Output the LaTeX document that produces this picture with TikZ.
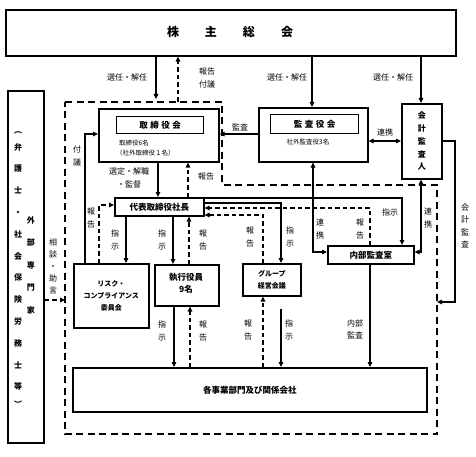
\documentclass[tikz,border=0pt]{standalone}
\usepackage{fontspec}
\setmainfont{Noto Sans CJK JP}
\usetikzlibrary{arrows.meta}
\tikzset{
  box/.style={draw, line width=1.6pt, inner sep=0pt, anchor=north west, fill=white},
  tbox/.style={draw, line width=1.4pt, inner sep=0pt, anchor=north west},
  arr/.style={line width=1.2pt, -{Triangle[length=5pt,width=4.5pt]}},
  darr/.style={arr, dash pattern=on 4.5pt off 3pt},
  dbl/.style={line width=1.2pt, {Triangle[length=5pt,width=4.5pt]}-{Triangle[length=5pt,width=4.5pt]}},
  bound/.style={line width=1.4pt, dash pattern=on 7pt off 4.5pt},
  lbl/.style={font=\fontsize{8}{9}\selectfont, inner sep=0pt, align=center},
  vlbl/.style={font=\fontsize{8}{12.5}\selectfont, inner sep=0pt, align=center},
  small/.style={font=\fontsize{6.5}{7}\selectfont, inner sep=0pt},
  ttl/.style={font=\bfseries\fontsize{8.5}{10}\selectfont, inner sep=0pt, align=center},
}
\begin{document}
\begin{tikzpicture}[x=1pt,y=-1pt]
\useasboundingbox (0,0) rectangle (476,457);
% boundary (dashed)
\draw[bound] (65,102) -- (222,102) -- (222,185) -- (437,185) -- (437,434) -- (65,434) -- cycle;
% boxes
\node[box, minimum width=450pt, minimum height=46pt] (gm) at (5,9) {};
\node[font=\bfseries\fontsize{12}{12}\selectfont, inner sep=0pt] (gmt) at (230,32) {株\hspace{26pt}主\hspace{26pt}総\hspace{26pt}会};
\node[box, minimum width=36pt, minimum height=352pt] (adv) at (7,90) {};
\node[box, minimum width=120pt, minimum height=53pt] (board) at (98,108) {};
\node[tbox, minimum width=87pt, minimum height=17pt] (boardt) at (116,116) {};
\node[ttl] (boardtt) at (boardt.center) {取\hspace{2.5pt}締\hspace{2.5pt}役\hspace{2.5pt}会};
\node[small, anchor=west] (bd1) at (119,143) {取締役6名};
\node[small, anchor=west] (bd2) at (116,153) {（社外取締役１名）};
\node[box, minimum width=109pt, minimum height=54pt] (kansa) at (258,107) {};
\node[tbox, minimum width=88pt, minimum height=19pt] (kansat) at (270,114) {};
\node[ttl] (kansatt) at (kansat.center) {監\hspace{2.5pt}査\hspace{2.5pt}役\hspace{2.5pt}会};
\node[small] (ks1) at (308,142) {社外監査役3名};
\node[box, minimum width=40pt, minimum height=75pt] (aud) at (401,103) {};
\node[font=\bfseries\fontsize{8}{12.8}\selectfont, inner sep=0pt, align=center] (audt) at (aud.center) {会\\計\\監\\査\\人};
\node[box, minimum width=89pt, minimum height=18pt] (pres) at (114,197) {};
\node[ttl] (prest) at (pres.center) {代表取締役社長};
\node[box, minimum width=75pt, minimum height=64pt] (risk) at (73,263) {};
\node[font=\bfseries\fontsize{7}{12}\selectfont, inner sep=0pt, align=center] (riskt) at (risk.center) {リスク・\\コンプライアンス\\委員会};
\node[box, minimum width=64pt, minimum height=41pt] (exec) at (154,264) {};
\node[font=\bfseries\fontsize{8.5}{12}\selectfont, inner sep=0pt, align=center] (exect) at (186,283) {執行役員\\9名};
\node[box, minimum width=58pt, minimum height=32pt] (grp) at (242,263) {};
\node[font=\bfseries\fontsize{7}{12}\selectfont, inner sep=0pt, align=center] (grpt) at (grp.center) {グループ\\経営会議};
\node[box, minimum width=86pt, minimum height=18pt] (ia) at (327,245) {};
\node[ttl] (iat) at (ia.center) {内部監査室};
\node[box, minimum width=354pt, minimum height=44pt] (biz) at (72,367) {};
\node[ttl] (bizt) at (biz.center) {各事業部門及び関係会社};
% left box text
\node[font=\bfseries\fontsize{8}{8}\selectfont, inner sep=0pt] (br1) at (18,133) {︵};
\node[font=\bfseries\fontsize{8}{21.8}\selectfont, inner sep=0pt, align=center] (advm) at (18,267) {弁\\護\\士\\・\\社\\会\\保\\険\\労\\務\\士\\等};
\node[font=\bfseries\fontsize{8}{8}\selectfont, inner sep=0pt] (br2) at (18,404) {︶};
\node[font=\bfseries\fontsize{8}{22.5}\selectfont, inner sep=0pt, align=center] (advs) at (31,265) {外\\部\\専\\門\\家};
% connectors from general meeting
\coordinate (bt) at (156,99);
\draw[arr] (156,0 |- gm.south) -- (bt);
\coordinate (rp) at (178,102);
\draw[darr] (rp) -- (178,0 |- gm.south);
\draw[arr] (312,0 |- gm.south) -- (312,0 |- kansa.north);
\draw[arr] (421,0 |- gm.south) -- (421,0 |- aud.north);
\node[lbl] (l1) at (127,77) {選任・解任};
\node[lbl] (l2) at (287,77) {選任・解任};
\node[lbl] (l3) at (393,77) {選任・解任};
\node[lbl, font=\fontsize{8}{13}\selectfont] (l4) at (207,78) {報告\\付議};
% audit
\draw[arr] (kansa.west |- 0,134) -- (board.east |- 0,134);
\node[lbl] (l5) at (240,127) {監査};
\draw[dbl] (kansa.east |- 0,141) -- (aud.west |- 0,141);
\node[lbl] (l6) at (385,132) {連携};
\coordinate (ae) at (437,302);
\draw[arr] (aud.east |- 0,141) -- (455,141) -- (455,302) -- (ae);
\node[vlbl] (l7) at (465,226) {会\\計\\監\\査};
% board <-> president
\draw[arr] (85,0 |- risk.north) -- (85,134) -- (board.west |- 0,134);
\node[vlbl] (l8) at (77,156) {付\\議};
\draw[arr] (158,0 |- board.south) -- (158,0 |- pres.north);
\node[lbl, font=\fontsize{8}{13}\selectfont] (l9) at (129,178) {選定・解職\\・監督};
\draw[darr] (188,0 |- pres.north) -- (188,0 |- board.south);
\node[lbl] (l10) at (206,176) {報告};
% president <-> risk/exec
\draw[darr] (99,0 |- risk.north) -- (99,205) -- (pres.west |- 0,205);
\node[vlbl] (l11) at (91,218) {報\\告};
\draw[arr] (126,0 |- pres.south) -- (126,0 |- risk.north);
\node[vlbl] (l12) at (115,240) {指\\示};
\draw[arr] (173,0 |- pres.south) -- (173,0 |- exec.north);
\node[vlbl] (l13) at (162,240) {指\\示};
\draw[darr] (189,0 |- exec.north) -- (189,0 |- pres.south);
\node[vlbl] (l14) at (203,240) {報\\告};
% president -> group / internal audit
\draw[arr] (pres.east |- 0,198) -- (402,198) -- (402,0 |- ia.north);
\node[lbl] (l15) at (390,212) {指示};
\draw[arr] (pres.east |- 0,203) -- (281,203) -- (281,0 |- grp.north);
\node[vlbl] (l16) at (290,237) {指\\示};
\draw[darr] (370,0 |- ia.north) -- (370,208) -- (pres.east |- 0,208);
\node[vlbl] (l17) at (360,229) {報\\告};
\draw[darr] (263,0 |- grp.north) -- (263,215) -- (pres.east |- 0,215);
\node[vlbl] (l18) at (250,237) {報\\告};
% liaison with internal audit
\draw[dbl] (313,0 |- kansa.south) -- (313,252) -- (ia.west |- 0,252);
\node[vlbl] (l19) at (320,229) {連\\携};
\draw[dbl] (421,0 |- aud.south) -- (421,252) -- (ia.east |- 0,252);
\node[vlbl] (l20) at (428,218) {連\\携};
% to business units
\draw[arr] (370,0 |- ia.south) -- (370,0 |- biz.north);
\node[lbl, font=\fontsize{8}{12}\selectfont] (l21) at (355,329) {内部\\監査};
\draw[arr] (174,0 |- exec.south) -- (174,0 |- biz.north);
\node[vlbl] (l22) at (162,331) {指\\示};
\draw[darr] (190,0 |- biz.north) -- (190,0 |- exec.south);
\node[vlbl] (l23) at (203,331) {報\\告};
\draw[darr] (263,0 |- biz.north) -- (263,0 |- grp.south);
\node[vlbl] (l24) at (248,330) {報\\告};
\draw[arr, shorten <=12pt] (281,0 |- grp.south) -- (281,0 |- biz.north);
\node[vlbl] (l25) at (289,330) {指\\示};
% advice
\coordinate (ad) at (65,300);
\draw[darr] (adv.east |- 0,300) -- (ad);
\node[font=\fontsize{8}{12}\selectfont, inner sep=0pt, align=center] (l26) at (53,266) {相\\談\\・\\助\\言};
\end{tikzpicture}
\end{document}
